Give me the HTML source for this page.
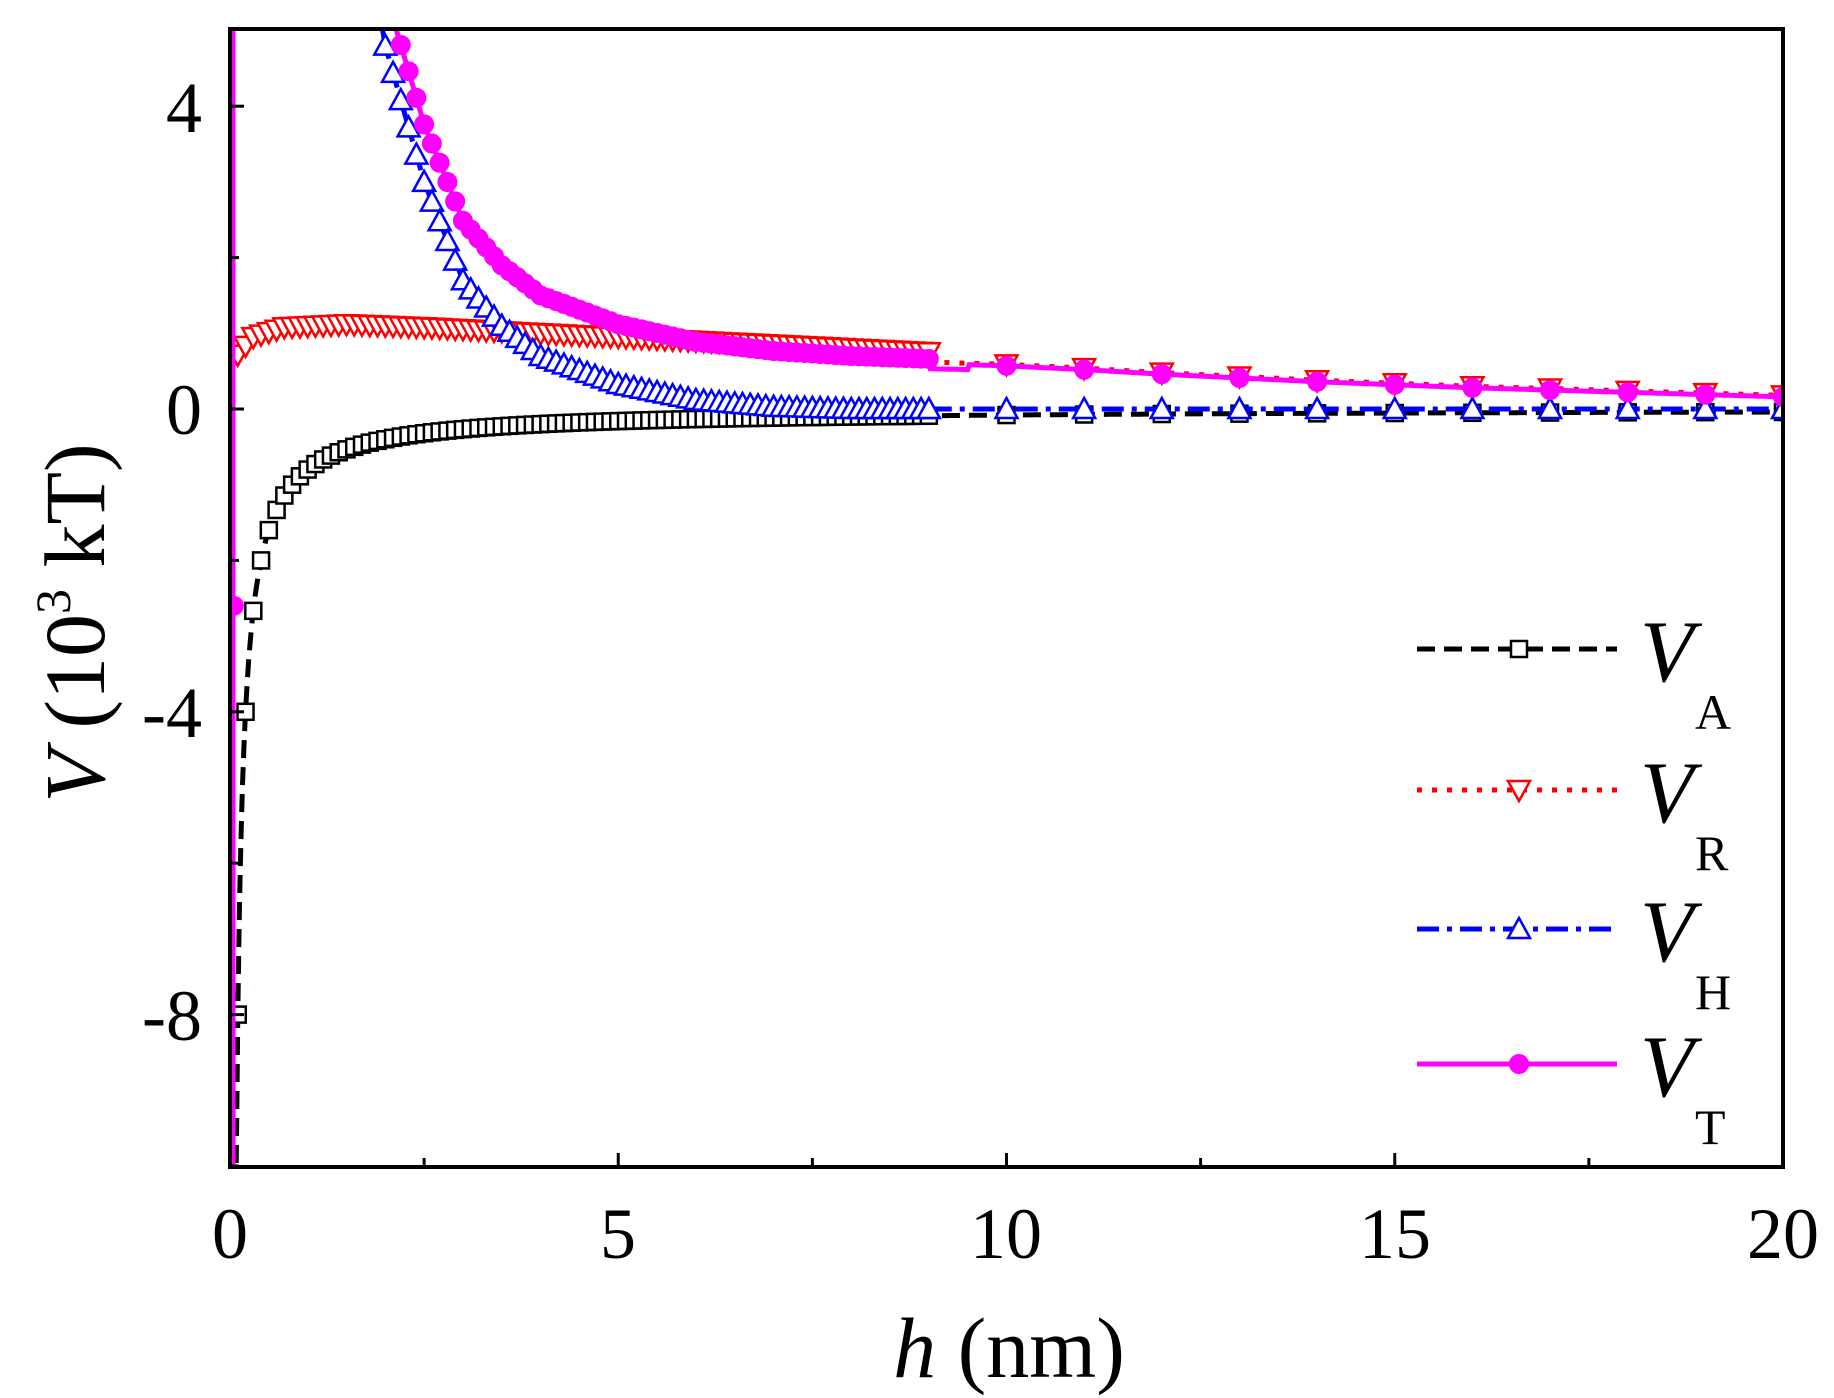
<!DOCTYPE html>
<html><head><meta charset="utf-8"><style>
html,body{margin:0;padding:0;background:#fff;overflow:hidden;width:1834px;height:1398px;}
svg{display:block;font-family:"Liberation Serif",serif;}
</style></head><body>
<svg id="s" width="1834" height="1398" viewBox="0 0 1834 1398" xmlns="http://www.w3.org/2000/svg">
<defs><clipPath id="c"><rect x="230" y="29" width="1553" height="1138"/></clipPath></defs>
<g id="plot" clip-path="url(#c)"></g>
<rect x="230" y="29" width="1553" height="1138" fill="none" stroke="#000" stroke-width="4"/>
<g id="ticks" stroke="#000" stroke-width="3"></g>
<g font-size="72" fill="#000">
<text x="230" y="1258" text-anchor="middle">0</text>
<text x="618" y="1258" text-anchor="middle">5</text>
<text x="1006" y="1258" text-anchor="middle">10</text>
<text x="1395" y="1258" text-anchor="middle">15</text>
<text x="1783" y="1258" text-anchor="middle">20</text>
<text x="202" y="132" text-anchor="end">4</text>
<text x="202" y="434" text-anchor="end">0</text>
<text x="202" y="737" text-anchor="end">-4</text>
<text x="202" y="1040" text-anchor="end">-8</text>
</g>
<text x="1009" y="1377" text-anchor="middle" font-size="86"><tspan font-style="italic">h</tspan> (nm)</text>
<text transform="translate(104,623) rotate(-90)" text-anchor="middle" font-size="86"><tspan font-style="italic">V</tspan> (10<tspan dy="-34" font-size="50">3</tspan><tspan dy="34"> kT)</tspan></text>
<g id="leg"></g>
</svg>
<script>
var NS="http://www.w3.org/2000/svg";
function X(h){return 230+h*77.65;}
function Y(v){return 409-v*75.7;}
function interp(p,h){for(var i=0;i<p.length-1;i++){if(h<=p[i+1][0]){var t=(h-p[i][0])/(p[i+1][0]-p[i][0]);return p[i][1]+t*(p[i+1][1]-p[i][1]);}}return p[p.length-1][1];}
function VA(h){return -0.8/h;}
var rp=[[0,0.6],[0.3,0.95],[0.7,1.08],[1.5,1.12],[2.5,1.08],[4,1.0],[5,0.95],[7,0.85],[9,0.75],[9.01,0.62],[10,0.59],[11,0.54],[12,0.48],[13,0.43],[14,0.38],[15,0.34],[16,0.3],[17,0.27],[18,0.24],[19,0.21],[20,0.18]];
function VR(h){return interp(rp,h);}
var hp=[[0,60],[1.5,9],[1.9,5.4],[2,4.8],[2.5,3.0],[3,1.7],[3.5,1.1],[4,0.7],[5,0.33],[6,0.12],[7,0.03],[8,0],[20,0]];
function VH(h){return interp(hp,h);}
function VT(h){var r=VA(h)+VR(h)+VH(h);if(h>=9.5)r=VR(h)-0.02;return r;}
var hs=[];for(var h=0.1;h<=9.001;h+=0.1)hs.push(+h.toFixed(2));for(var k=10;k<=20;k++)hs.push(k);
var fine=[];for(var h=0.02;h<=20;h+=0.02)fine.push(h);
var plot=document.getElementById("plot");
function el(n,a,p){var e=document.createElementNS(NS,n);for(var k in a)e.setAttribute(k,a[k]);(p||plot).appendChild(e);return e;}
function line(f,col,dash,w){var d="";fine.forEach(function(h,i){var y=Math.max(-50,Math.min(2000,Y(f(h))));d+=(i?"L":"M")+X(h).toFixed(1)+","+y.toFixed(1);});el("path",{d:d,fill:"none",stroke:col,"stroke-width":w||5,"stroke-dasharray":dash||""});}
function sq(x,y,p){el("rect",{x:x-8,y:y-8,width:16,height:16,fill:"#fff",stroke:"#000","stroke-width":2.5},p);}
function tdown(x,y,p){el("path",{d:"M"+(x-11)+","+(y-9)+"L"+(x+11)+","+(y-9)+"L"+x+","+(y+11)+"Z",fill:"#fff",stroke:"#f00","stroke-width":2.5},p);}
function tup(x,y,p){el("path",{d:"M"+(x-11)+","+(y+9)+"L"+(x+11)+","+(y+9)+"L"+x+","+(y-11)+"Z",fill:"#fff",stroke:"#00f","stroke-width":2.5},p);}
function circ(x,y,p){el("circle",{cx:x,cy:y,r:9,fill:"#f0f",stroke:"#f0f","stroke-width":2},p);}
line(VA,"#000","18 9",5);
hs.forEach(function(h){sq(X(h),Y(VA(h)));});
line(VR,"#f00","5 10",5);
el("path",{d:(function(){var d="";fine.forEach(function(h,i){if(h<=9)d+=(i?"L":"M")+X(h)+","+Y(VR(h));});return d;})(),fill:"none",stroke:"#f00","stroke-width":3});
hs.forEach(function(h){tdown(X(h),Y(VR(h)));});
line(VH,"#00f","22 8 5 8",5);
hs.forEach(function(h){tup(X(h),Y(VH(h)));});
el("line",{x1:233,y1:29,x2:233,y2:1170,stroke:"#f0f","stroke-width":5});
line(VT,"#f0f","",5);
circ(X(0.05),Y(-2.6));
hs.forEach(function(h){circ(X(h),Y(VT(h)));});
var tk=document.getElementById("ticks");
[2.5,5,7.5,10,12.5,15,17.5].forEach(function(h){var l=(h%5==0)?14:9;el("line",{x1:X(h),y1:1167,x2:X(h),y2:1167-l},tk);});
[-10,-8,-6,-4,-2,0,2,4].forEach(function(v){var l=(v%4==0)?14:9;el("line",{x1:230,y1:Y(v),x2:230+l,y2:Y(v)},tk);});
var lg=document.getElementById("leg");
var rows=[[649,"#000","18 9","A",sq],[790,"#f00","5 10","R",tdown],[929,"#00f","22 8 5 8","H",tup],[1064,"#f0f","","T",circ]];
rows.forEach(function(r){el("line",{x1:1417,y1:r[0],x2:1617,y2:r[0],stroke:r[1],"stroke-width":5,"stroke-dasharray":r[2]},lg);r[4](1519,r[0],lg);
var t=el("text",{x:1640,y:r[0]+32,"font-size":"88","font-style":"italic"},lg);t.textContent="V";
var s=el("text",{x:1695,y:r[0]+80,"font-size":"50"},lg);s.textContent=r[3];});
</script>
</body></html>
